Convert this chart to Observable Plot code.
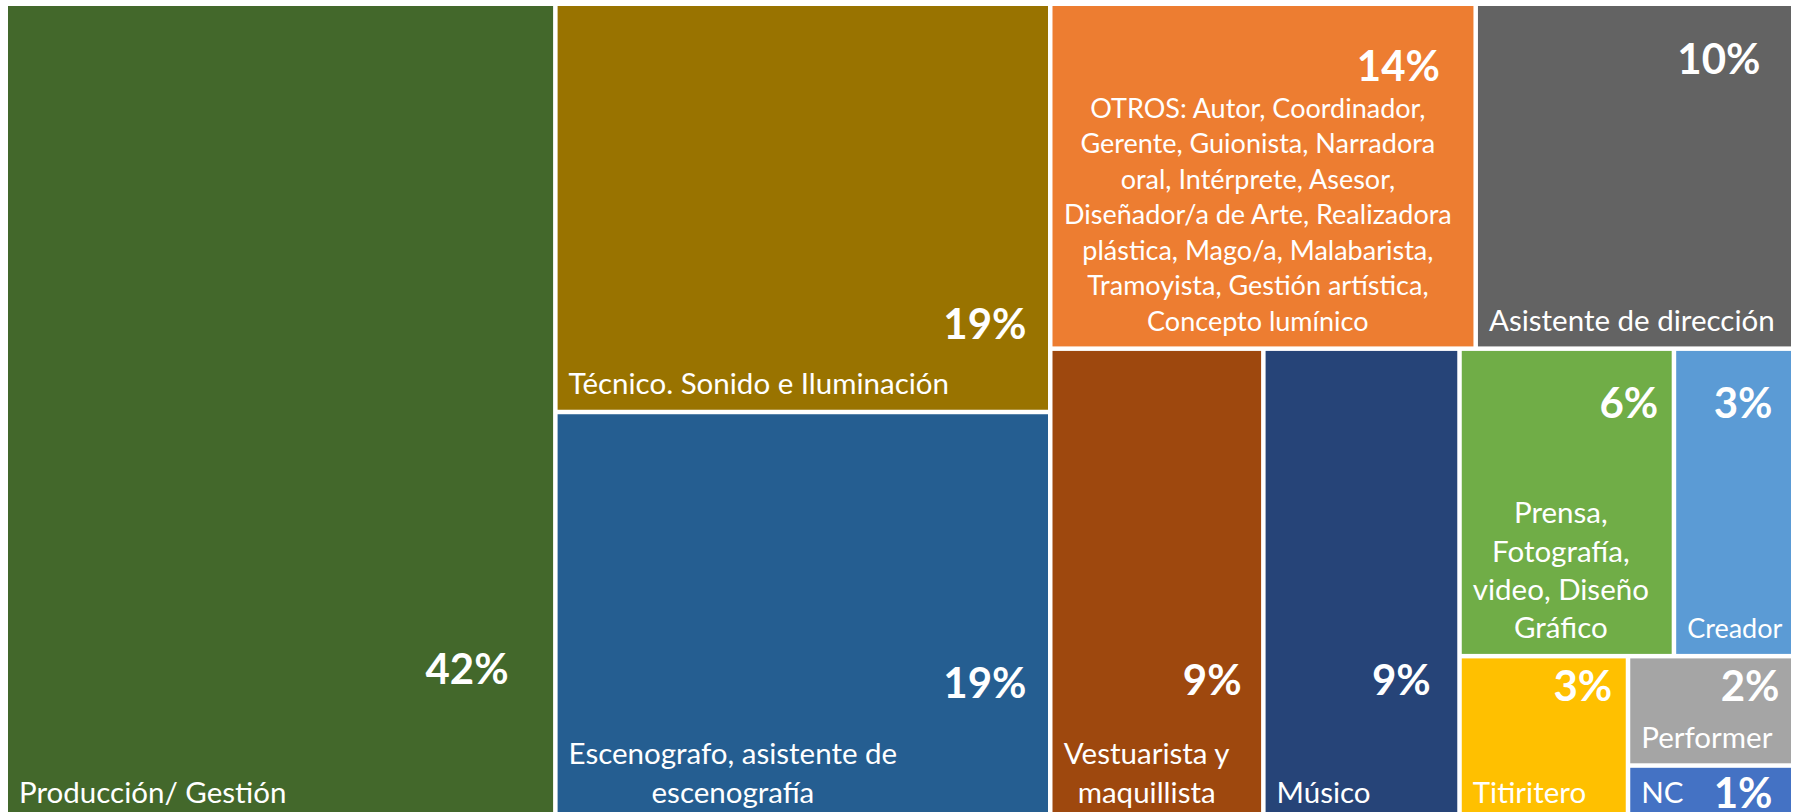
<!DOCTYPE html>
<html>
<head>
<meta charset="utf-8">
<script src="https://cdn.jsdelivr.net/npm/d3@7"></script>
<script src="https://cdn.jsdelivr.net/npm/@observablehq/plot@0.6"></script>
<style>
  html, body { margin: 0; padding: 0; background: #fff; overflow: hidden; }
  #chart svg { display: block; }
</style>
</head>
<body>
<div id="chart"></div>
<script>
// ---- data ----
const categories = [
  "Producción/ Gestión",
  "Técnico. Sonido e Iluminación",
  "Escenografo, asistente de\nescenografía",
  "OTROS: Autor, Coordinador,\nGerente, Guionista, Narradora\noral, Intérprete, Asesor,\nDiseñador/a de Arte, Realizadora\nplástica, Mago/a, Malabarista,\nTramoyista, Gestión artística,\nConcepto lumínico",
  "Asistente de dirección",
  "Vestuarista y\nmaquillista",
  "Músico",
  "Prensa,\nFotografía,\nvideo, Diseño\nGráfico",
  "Creador",
  "Titiritero",
  "Performer",
  "NC"
];
// share of respondents (%), labels show the rounded value
const values = [42.2, 19.0, 19.0, 13.8, 10.3, 9.45, 8.7, 6.2, 3.45, 2.6, 1.7, 0.85];
const colors = ["#43682B", "#997300", "#255E91", "#ED7D31", "#636363", "#9E480E",
                "#264478", "#70AD47", "#5B9BD5", "#FFC000", "#A5A5A5", "#4472C4"];
// nesting of the treemap tiles (slice/dice by depth)
const groups = ["", "B", "B", "C/C1", "C/C1", "C/C2", "C/C2",
                "C/C2/X/P", "C/C2/X/P", "C/C2/X/Q", "C/C2/X/Q/R", "C/C2/X/Q/R"];

// ---- label styling (offsets inside each tile) ----
const pctRightInset = [45, 22, 22, 34, 31, 20, 27, 14, 19, 14, 12, 19];
const pctBaselineFromTop = [677, 332, 283, 74, 67, 344, 344, 67, 67, 42, 42, 40];
const smallTextIdx = new Set([3, 8]);

const W = 1783, H = 812;
const FONT = "Lato";
const NAME_SIZE = 29.5, SMALL_SIZE = 27, PCT_SIZE = 42;

// ---- build hierarchy ----
const rootData = {key: "root", children: []};
categories.forEach((name, i) => {
  let node = rootData;
  for (const seg of groups[i].split("/").filter(Boolean)) {
    let child = node.children.find(c => c.key === seg && c.children);
    if (!child) { child = {key: seg, children: []}; node.children.push(child); }
    node = child;
  }
  node.children.push({name, value: values[i], color: colors[i], idx: i});
});
const root = d3.hierarchy(rootData).sum(d => d.children ? 0 : d.value);
d3.treemap().tile(d3.treemapSliceDice).size([W, H]).paddingInner(4.5).round(false)(root);

const canvas = document.createElement("canvas");
const ctx = canvas.getContext("2d");
function maxLineWidth(text, size) {
  ctx.font = `${size}px ${FONT}`;
  return d3.max(text.split("\n"), l => ctx.measureText(l).width);
}

const cells = root.leaves().map(l => {
  const i = l.data.idx;
  const size = smallTextIdx.has(i) ? SMALL_SIZE : NAME_SIZE;
  return {
    name: l.data.name, value: l.data.value, color: l.data.color, idx: i,
    x0: l.x0, x1: l.x1, y0: l.y0, y1: l.y1,
    nameX: l.x0 + 10.5 + maxLineWidth(l.data.name, size) / 2,
    nameY: l.y1 - 16,
    pctX: l.x1 - pctRightInset[i],
    pctY: l.y0 + pctBaselineFromTop[i],
    small: smallTextIdx.has(i)
  };
});

const chart = Plot.plot({
  width: 1795,
  height: 812,
  margin: 0,
  x: {type: "linear", domain: [0, W], range: [8, 8 + W], axis: null},
  y: {type: "linear", domain: [0, H], range: [6, 6 + H], axis: null},
  color: {type: "identity"},
  style: {fontFamily: FONT, background: "white"},
  marks: [
    Plot.rect(cells, {x1: "x0", x2: "x1", y1: "y0", y2: "y1", fill: "color"}),
    Plot.text(cells.filter(d => !d.small), {
      x: "nameX", y: "nameY", text: "name", fill: "white",
      fontFamily: FONT, fontSize: NAME_SIZE, lineHeight: 1.3,
      textAnchor: "middle", lineAnchor: "bottom"
    }),
    Plot.text(cells.filter(d => d.small), {
      x: "nameX", y: "nameY", text: "name", fill: "white",
      fontFamily: FONT, fontSize: SMALL_SIZE, lineHeight: 1.315,
      textAnchor: "middle", lineAnchor: "bottom"
    }),
    Plot.text(cells, {
      x: "pctX", y: "pctY", text: d => Math.round(d.value) + "%", fill: "white",
      fontFamily: FONT, fontSize: PCT_SIZE, fontWeight: "bold",
      textAnchor: "end", lineAnchor: "bottom"
    })
  ]
});
document.getElementById("chart").appendChild(chart);
</script>
</body>
</html>
